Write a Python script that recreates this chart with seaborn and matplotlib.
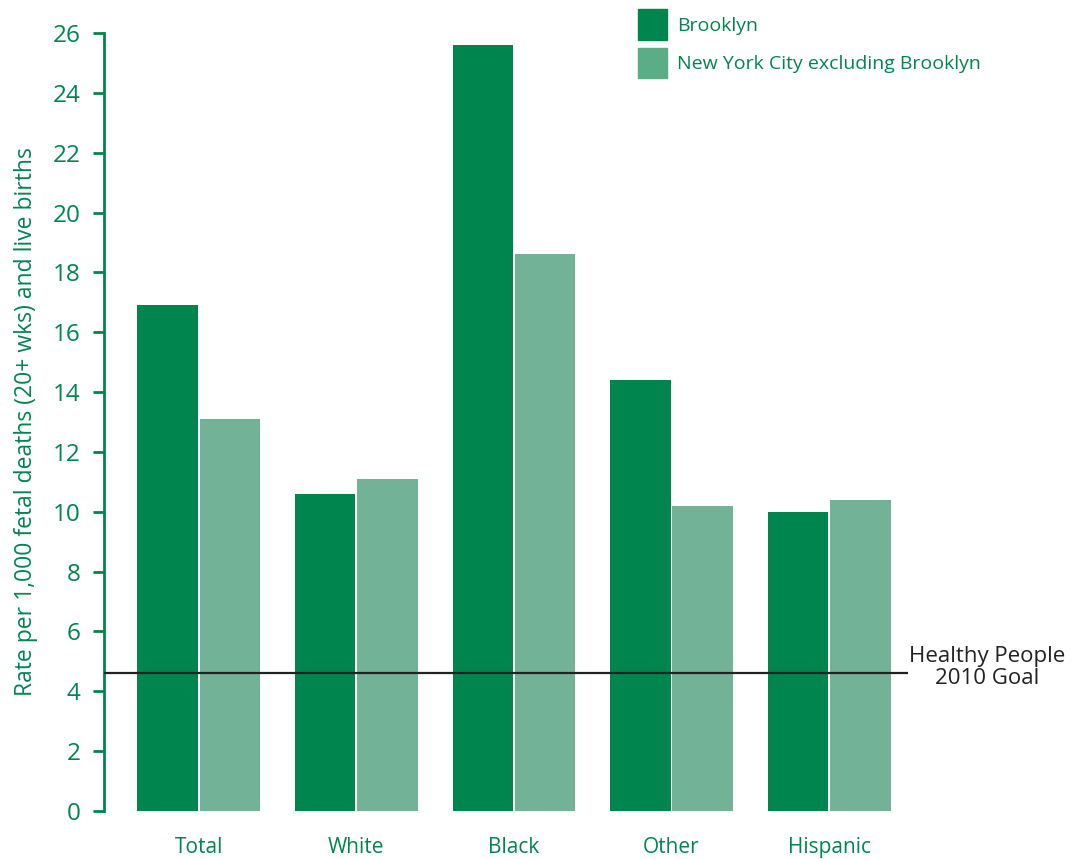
import matplotlib
matplotlib.use("Agg")
import matplotlib.pyplot as plt
import matplotlib.patches as mpatches
import seaborn as sns
import pandas as pd

categories = ["Total", "White", "Black", "Other", "Hispanic"]
brooklyn = [16.9, 10.6, 25.6, 14.4, 10.0]
nyc_excl = [13.1, 11.1, 18.6, 10.2, 10.4]
series_names = ["Brooklyn", "New York City excluding Brooklyn"]
goal_value = 4.6
goal_label = "Healthy People\n2010 Goal"
y_ticks = list(range(0, 27, 2))

GREEN = "#00854F"
LIGHT = "#72B398"
LEGEND_LIGHT = "#5AAD85"

sns.set_style("white")
plt.rcParams["font.family"] = ["Open Sans", "DejaVu Sans"]

df = pd.DataFrame({
    "category": categories * 2,
    "value": brooklyn + nyc_excl,
    "series": [series_names[0]] * len(categories) + [series_names[1]] * len(categories),
})

fig = plt.figure(figsize=(10.81, 8.59), dpi=100)
ax = fig.add_axes([104 / 1081, 1 - 811 / 859, (908 - 104) / 1081, (811 - 33) / 859])

sns.barplot(data=df, x="category", y="value", hue="series", order=categories,
            hue_order=series_names, palette=[GREEN, LIGHT], width=0.79, gap=0.03,
            saturation=1, linewidth=0, legend=False, ax=ax)

ax.set_xlim(-0.6, 4.5)
ax.set_ylim(0, 26)
ax.set_yticks(y_ticks)
ax.axhline(goal_value, color="#222222", linewidth=1.6, zorder=5)
ax.text(1.098, goal_value + 0.2, goal_label, transform=ax.get_yaxis_transform(),
        ha="center", va="center", fontsize=16, color="#222222", linespacing=1.1)

for s in ["top", "right", "bottom"]:
    ax.spines[s].set_visible(False)
ax.spines["left"].set_color(GREEN)
ax.spines["left"].set_linewidth(2)
ax.tick_params(axis="y", colors=GREEN, labelcolor=GREEN, length=8, width=2,
               labelsize=17.5, pad=9, left=True)
ax.tick_params(axis="x", length=0, labelcolor=GREEN, labelsize=15, pad=19)
ax.set_xlabel("")
ax.set_ylabel("Rate per 1,000 fetal deaths (20+ wks) and live births",
              color=GREEN, fontsize=16.5, labelpad=10)

handles = [mpatches.Patch(color=GREEN, label=series_names[0]),
           mpatches.Patch(color=LEGEND_LIGHT, label=series_names[1])]
fig.legend(handles=handles, loc="upper left", bbox_to_anchor=(620 / 1081, 1 + 8 / 859),
           frameon=False, fontsize=14, labelcolor=GREEN, handlelength=1.5,
           handleheight=2.0, handletextpad=0.55, labelspacing=0.45)

fig.savefig("out.png", dpi=100)
